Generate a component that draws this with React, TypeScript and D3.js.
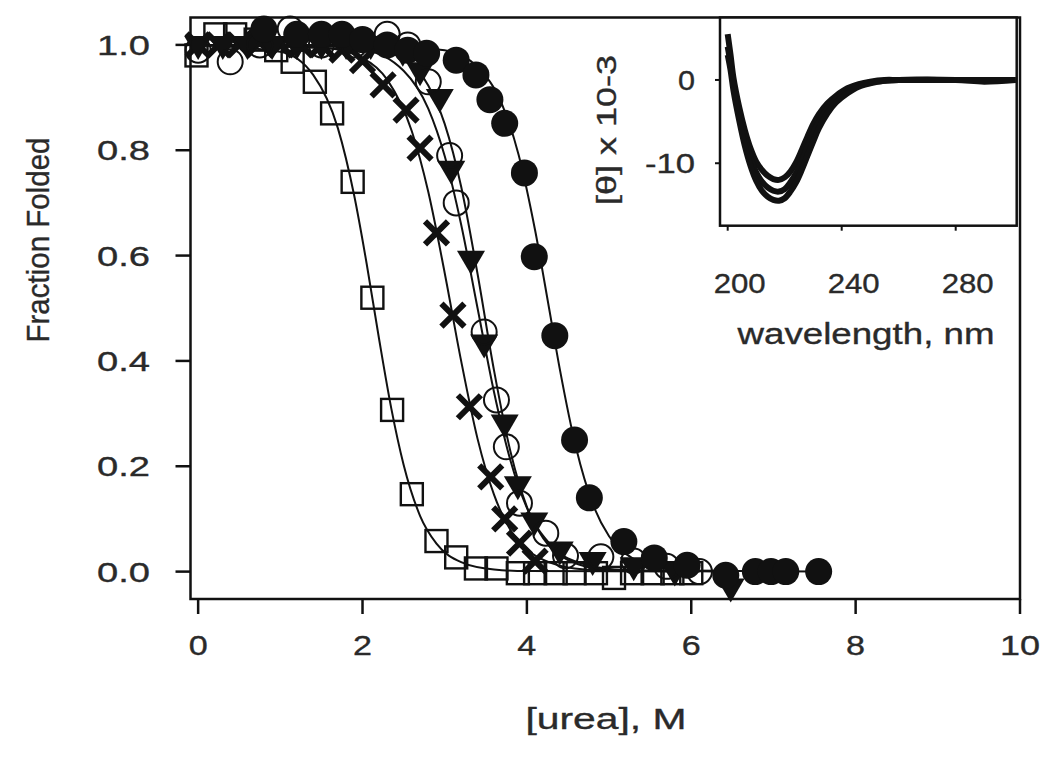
import React from "react";
import * as d3 from "d3";

type P = [number, number];

// ---- main plot data: [urea] (M) vs fraction folded ----
const squares: P[] = [
  [-0.02, 0.98], [0.21, 1.02], [0.45, 1.02], [0.7, 1.01], [0.95, 0.99], [1.15, 0.968],
  [1.42, 0.93], [1.63, 0.87], [1.88, 0.74], [2.12, 0.52], [2.36, 0.307], [2.6, 0.147],
  [2.9, 0.058], [3.14, 0.027], [3.38, 0.006], [3.63, 0.006], [3.89, -0.003], [4.1, -0.003],
  [4.35, -0.003], [4.58, -0.003], [4.84, -0.003], [5.06, -0.012], [5.28, -0.003],
  [5.53, -0.003], [5.77, -0.003], [6.0, -0.003],
];
const crosses: P[] = [
  [0.0, 1.0], [0.25, 1.0], [0.5, 1.0], [0.75, 1.005], [1.0, 1.0], [1.25, 1.0], [1.5, 1.0],
  [1.75, 0.99], [2.0, 0.97], [2.25, 0.924], [2.53, 0.876], [2.7, 0.804], [2.9, 0.643],
  [3.1, 0.487], [3.3, 0.313], [3.56, 0.18], [3.73, 0.1], [3.91, 0.054], [4.1, 0.02],
];
const openCircles: P[] = [
  [0.0, 0.99], [0.39, 0.968], [0.75, 1.0], [1.12, 1.03], [1.5, 1.0], [1.9, 1.0],
  [2.3, 1.02], [2.55, 1.0], [2.8, 0.93], [3.06, 0.79], [3.14, 0.7], [3.48, 0.455],
  [3.63, 0.326], [3.75, 0.237], [3.91, 0.13], [4.23, 0.073], [4.47, 0.03], [4.9, 0.028],
  [5.3, 0.02], [5.7, 0.01], [6.1, 0.0],
];
const triangles: P[] = [
  [0.0, 1.0], [0.3, 1.0], [0.6, 1.0], [0.9, 1.0], [1.2, 1.0], [1.5, 1.0], [1.8, 1.0],
  [2.1, 1.0], [2.49, 0.987], [2.7, 0.95], [2.94, 0.899], [3.08, 0.763], [3.32, 0.592],
  [3.48, 0.433], [3.73, 0.281], [3.89, 0.164], [4.09, 0.095], [4.4, 0.04], [4.8, 0.02],
  [5.3, 0.01], [5.8, 0.0], [6.48, -0.03],
];
const filledCircles: P[] = [
  [0.8, 1.03], [1.2, 1.02], [1.5, 1.02], [1.75, 1.02], [2.0, 1.01], [2.3, 1.0], [2.55, 0.99],
  [2.78, 0.984], [3.14, 0.971], [3.38, 0.943], [3.55, 0.896], [3.73, 0.851], [3.97, 0.757],
  [4.09, 0.598], [4.34, 0.448], [4.58, 0.25], [4.76, 0.14], [5.18, 0.057], [5.55, 0.026],
  [5.95, 0.012], [6.42, -0.007], [6.78, 0.0], [6.97, 0.0], [7.15, 0.0], [7.55, 0.0],
];

// ---- fitted curves ----
const fitSquares: P[] = [
  [0, 1.0], [1.0, 0.987], [1.4, 0.943], [1.7, 0.842], [1.9, 0.713], [2.05, 0.585],
  [2.2, 0.443], [2.35, 0.31], [2.5, 0.203], [2.7, 0.106], [2.9, 0.053], [3.2, 0.018],
  [3.6, 0.004], [4.0, 0.001], [6.0, 0.0],
];
const fitCrosses: P[] = [
  [0, 1.0], [1.5, 0.995], [2.0, 0.975], [2.3, 0.934], [2.6, 0.836], [2.8, 0.721],
  [3.0, 0.567], [3.2, 0.4], [3.4, 0.252], [3.6, 0.146], [3.8, 0.079], [4.0, 0.042],
  [4.3, 0.016], [4.7, 0.004], [5.2, 0.001],
];
const fitOpenCircles: P[] = [
  [0, 1.0], [2.0, 0.996], [2.5, 0.973], [2.8, 0.923], [3.0, 0.85], [3.2, 0.731],
  [3.4, 0.565], [3.6, 0.382], [3.8, 0.228], [4.0, 0.123], [4.2, 0.063], [4.5, 0.022],
  [5.0, 0.003], [6.1, 0.0],
];
const fitTriangles: P[] = [
  [0, 1.0], [2.0, 0.99], [2.5, 0.951], [2.8, 0.879], [3.0, 0.789], [3.2, 0.659],
  [3.4, 0.5], [3.6, 0.341], [3.8, 0.211], [4.0, 0.121], [4.3, 0.049], [4.7, 0.014],
  [5.2, 0.003], [6.5, 0.0],
];
const fitFilledCircles: P[] = [
  [0, 1.0], [2.0, 1.0], [3.0, 0.99], [3.4, 0.958], [3.7, 0.886], [3.9, 0.791],
  [4.1, 0.648], [4.27, 0.5], [4.4, 0.385], [4.6, 0.234], [4.8, 0.129], [5.0, 0.067],
  [5.3, 0.024], [5.6, 0.008], [6.0, 0.002], [7.6, 0.0],
];

const xTicks = [0, 2, 4, 6, 8, 10];
const yTicks = [0, 0.2, 0.4, 0.6, 0.8, 1.0];

// ---- inset: CD spectra ----
const wavelengths = [200, 201, 202, 204, 206, 208, 210, 212, 214, 216, 218, 220, 222, 224, 226, 228, 230, 232, 235, 238, 242, 246, 250, 255, 260, 280, 290, 301];
const specA = [5.5, 3.0, 0.3, -3.2, -6.0, -8.2, -9.8, -10.8, -11.5, -11.9, -12.0, -11.7, -11.0, -9.9, -8.4, -6.8, -5.3, -4.1, -2.8, -1.9, -1.0, -0.5, -0.2, 0.0, 0.0, 0.0, 0.0, 0.0];
const specB = [4.0, 2.0, -0.5, -4.0, -7.0, -9.4, -11.1, -12.2, -12.9, -13.3, -13.4, -13.1, -12.3, -11.2, -9.7, -8.0, -6.4, -5.0, -3.4, -2.3, -1.3, -0.6, -0.3, -0.1, 0.0, 0.0, -0.2, 0.0];
const specC = [3.0, 1.2, -1.2, -4.8, -7.9, -10.3, -12.1, -13.3, -14.0, -14.4, -14.5, -14.2, -13.4, -12.3, -10.8, -9.1, -7.4, -5.8, -4.0, -2.7, -1.6, -0.8, -0.4, -0.1, 0.0, 0.0, 0.0, 0.0];
const insetXTicks = [200, 240, 280];
const insetYTicks = [0, -10];

const FONT = "'Liberation Sans', Arial, sans-serif";
const INK = "#111";
const TXT = "#2a2a2a";
const TXT_STROKE = 0.35;

export default function App() {
  const W = 1050, H = 778;
  const L = 190.5, R = 1020, T = 17.5, B = 599;
  const x = d3.scaleLinear().domain([-0.093, 10]).range([L, R]);
  const y = d3.scaleLinear().domain([-0.052, 1.052]).range([B, T]);
  const line = d3.line<P>().x(d => x(d[0])).y(d => y(d[1])).curve(d3.curveMonotoneX);

  const IL = 720, IR = 1016.7, IT = 17.5, IB = 225.7;
  const xi = d3.scaleLinear().domain([197.3, 301.4]).range([IL, IR]);
  const yi = d3.scaleLinear().domain([-17.5, 7.5]).range([IB, IT]);
  const specLine = d3.line<number>()
    .x((_, i) => xi(wavelengths[i]))
    .y(d => yi(d))
    .curve(d3.curveCatmullRom);

  const fits = [fitSquares, fitCrosses, fitOpenCircles, fitTriangles, fitFilledCircles];
  const txt = { fontFamily: FONT, fill: TXT, stroke: TXT, strokeWidth: TXT_STROKE, lengthAdjust: "spacingAndGlyphs" } as const;

  return (
    <svg width={W} height={H} style={{ position: "absolute", left: 0, top: 0, background: "#fff" }}>
      <rect x={0} y={0} width={W} height={H} fill="#fff" />
      {/* fit curves */}
      {fits.map((f, i) => (
        <path key={i} d={line(f) || ""} fill="none" stroke={INK} strokeWidth={2} />
      ))}
      {/* markers */}
      {squares.map((d, i) => (
        <rect key={"s" + i} x={x(d[0]) - 11} y={y(d[1]) - 11} width={22} height={22}
          fill="none" stroke={INK} strokeWidth={2.4} />
      ))}
      {crosses.map((d, i) => (
        <path key={"x" + i} transform={`translate(${x(d[0])},${y(d[1])})`}
          d="M-11.5,-11.5L11.5,11.5M-11.5,11.5L11.5,-11.5" stroke={INK} strokeWidth={6} fill="none" />
      ))}
      {triangles.map((d, i) => (
        <path key={"t" + i} transform={`translate(${x(d[0])},${y(d[1])})`}
          d="M-14,-9L14,-9L0,15Z" fill={INK} />
      ))}
      {openCircles.map((d, i) => (
        <circle key={"o" + i} cx={x(d[0])} cy={y(d[1])} r={12.5} fill="none" stroke={INK} strokeWidth={2} />
      ))}
      {filledCircles.map((d, i) => (
        <circle key={"c" + i} cx={x(d[0])} cy={y(d[1])} r={13.5} fill={INK} />
      ))}

      {/* frame */}
      <rect x={L} y={T} width={R - L} height={B - T} fill="none" stroke={INK} strokeWidth={2.5} />
      {yTicks.map(t => (
        <g key={"yt" + t}>
          <line x1={L - 15} x2={L} y1={y(t)} y2={y(t)} stroke={INK} strokeWidth={2.5} />
          <text {...txt} x={150} y={y(t)} dy="0.36em" textAnchor="end" fontSize={28}
            textLength={53}>{t.toFixed(1)}</text>
        </g>
      ))}
      {xTicks.map(t => (
        <g key={"xt" + t}>
          <line x1={x(t)} x2={x(t)} y1={B} y2={B + 15} stroke={INK} strokeWidth={2.5} />
          <text {...txt} x={x(t)} y={645} dy="0.36em" textAnchor="middle" fontSize={28}
            textLength={t >= 10 ? 40 : 19}>{t}</text>
        </g>
      ))}
      <text {...txt} x={606} y={718} dy="0.36em" textAnchor="middle" fontSize={30}
        textLength={161}>[urea], M</text>
      <text {...txt} transform={`translate(37,240) rotate(-90)`} dy="0.36em" textAnchor="middle"
        fontSize={32} textLength={205}>Fraction Folded</text>

      {/* inset */}
      <rect x={IL} y={IT} width={IR - IL} height={IB - IT} fill="#fff" stroke={INK} strokeWidth={2.5} />
      {[specA, specB, specC].map((s, i) => (
        <path key={"sp" + i} d={specLine(s) || ""} fill="none" stroke={INK} strokeWidth={6} strokeLinejoin="round" />
      ))}
      {insetYTicks.map(t => (
        <g key={"iyt" + t}>
          <line x1={IL - 5} x2={IL} y1={yi(t)} y2={yi(t)} stroke={INK} strokeWidth={2} />
          <text {...txt} x={695} y={yi(t)} dy="0.36em" textAnchor="end" fontSize={28}
            textLength={t === 0 ? 17 : 50}>{t}</text>
        </g>
      ))}
      {insetXTicks.map(t => (
        <g key={"ixt" + t}>
          <line x1={xi(t)} x2={xi(t)} y1={IB} y2={IB + 5} stroke={INK} strokeWidth={2} />
          <text {...txt} x={xi(t) + 12} y={283} dy="0.36em" textAnchor="middle" fontSize={28}
            textLength={52}>{t}</text>
        </g>
      ))}
      <text {...txt} x={866} y={333} dy="0.36em" textAnchor="middle" fontSize={30}
        textLength={257}>wavelength, nm</text>
      <text {...txt} transform={`translate(606,130) rotate(-90)`} dy="0.36em" textAnchor="middle"
        fontSize={27} textLength={150}>[θ] x 10-3</text>
    </svg>
  );
}
